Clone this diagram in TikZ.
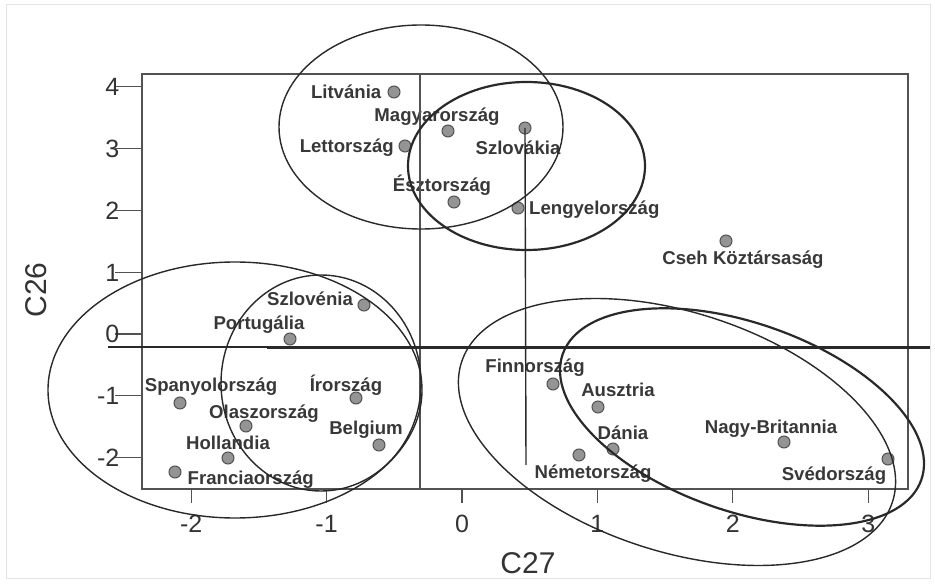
\documentclass[tikz,border=0pt]{standalone}
\usepackage{fontspec}
\setmainfont{Liberation Sans}
\usetikzlibrary{positioning}

\definecolor{vonal}{gray}{0.16}
\definecolor{keret}{gray}{0.32}
\definecolor{pontszin}{gray}{0.58}

\begin{document}
\begin{tikzpicture}[x=1pt, y=-1pt,
    pont/.style={circle, draw=keret, fill=pontszin, line width=1pt, minimum size=12pt, inner sep=0pt},
    cimke/.style={font=\fontsize{18.6}{20}\selectfont\bfseries, text=black!78, inner sep=0pt, text height=13.3pt, text depth=0pt},
    szam/.style={font=\fontsize{25}{28}\selectfont, text=black!80, inner sep=0pt, text height=18pt, text depth=0pt},
    tengely/.style={font=\fontsize{30}{32}\selectfont, text=black!80, inner sep=0pt},
    vekony/.style={draw=vonal, line width=1.4pt},
    vastag/.style={draw=vonal, line width=2.2pt}]
  \useasboundingbox (0,0) rectangle (935,585);
  \draw[gray!22, line width=1pt] (6,5) rectangle (930,578);

  % keret es osztovonalak
  \draw[keret, line width=1.5pt] (142,74) rectangle (908,489);
  \foreach \v in {-2,...,3}
    \draw[keret, line width=1.3pt] ({462+135.4*\v},489) -- ({462+135.4*\v},503)
      node[szam, anchor=north, yshift=-11pt] {\v};
  \foreach \v in {-2,...,4}
    \draw[keret, line width=1.3pt] (115,{334-61.8*\v}) -- (142,{334-61.8*\v})
      node[szam, anchor=east, xshift=-22pt] {\v};
  \node[tengely, rotate=90] (c26) at (36,290) {C26};
  \node[tengely] (c27) at (528,563) {C27};

  % orszagok
  \node[pont] (litvania) at (394,92) {};
  \node[pont] (magyar) at (448,131) {};
  \node[pont] (lett) at (405,146) {};
  \node[pont] (eszt) at (454,202) {};
  \node[pont] (szlovakia) at (525,128) {};
  \node[pont] (lengyel) at (518,208) {};
  \node[pont] (cseh) at (726,241) {};
  \node[pont] (szloven) at (364,305) {};
  \node[pont] (portugal) at (290,339) {};
  \node[pont] (spanyol) at (180,403) {};
  \node[pont] (olasz) at (246,426) {};
  \node[pont] (holland) at (228,458) {};
  \node[pont] (francia) at (175,472) {};
  \node[pont] (ir) at (356,398) {};
  \node[pont] (belga) at (379,445) {};
  \node[pont] (finn) at (553,384) {};
  \node[pont] (osztrak) at (598,407) {};
  \node[pont] (dan) at (613,449) {};
  \node[pont] (nemet) at (579,455) {};
  \node[pont] (brit) at (784,442) {};
  \node[pont] (sved) at (888,459) {};

  \node[cimke, left=6pt of litvania] (l-litvania) {Litvánia};
  \node[cimke] (l-magyar) at (437,115) {Magyarország};
  \node[cimke, left=4.5pt of lett] (l-lett) {Lettország};
  \node[cimke] (l-eszt) at (442,185) {Észtország};
  \node[cimke] (l-szlovakia) at (518,148) {Szlovákia};
  \node[cimke, right=4.5pt of lengyel] (l-lengyel) {Lengyelország};
  \node[cimke] (l-cseh) at (743,258) {Cseh Köztársaság};
  \node[cimke] (l-szloven) at (310,299) {Szlovénia};
  \node[cimke] (l-portugal) at (259,323) {Portugália};
  \node[cimke] (l-spanyol) at (211,385) {Spanyolország};
  \node[cimke] (l-olasz) at (264,412) {Olaszország};
  \node[cimke] (l-holland) at (228,443) {Hollandia};
  \node[cimke, right=6pt of francia, yshift=-6pt] (l-francia) {Franciaország};
  \node[cimke] (l-ir) at (346,385) {Írország};
  \node[cimke] (l-belga) at (366,428) {Belgium};
  \node[cimke] (l-finn) at (535,366) {Finnország};
  \node[cimke] (l-osztrak) at (618,390) {Ausztria};
  \node[cimke] (l-dan) at (623,433) {Dánia};
  \node[cimke] (l-nemet) at (593,472) {Németország};
  \node[cimke] (l-brit) at (771,427) {Nagy-Britannia};
  \node[cimke] (l-sved) at (834,474) {Svédország};

  % elvalaszto vonalak
  \coordinate (talp) at (526,465);
  \draw[keret, line width=1.4pt] (420,74) -- (420,489);
  \draw[vekony] (szlovakia.center) -- (talp);
  \draw[vekony] (108,347) -- (930,347);
  \draw[draw=vonal, line width=2.2pt] (267,348) -- (930,348);

  % csoportok
  \draw[vekony] (421,127) ellipse [x radius=142pt, y radius=102pt];
  \draw[vastag] (526.5,166) ellipse [x radius=118.5pt, y radius=84pt];
  \draw[vekony] (235,390) ellipse [x radius=187pt, y radius=128pt];
  \draw[vekony] (321,383) ellipse [x radius=100pt, y radius=108pt];
  \draw[vekony, rotate around={-18:(677,432)}] (677,432) ellipse [x radius=226.5pt, y radius=119.5pt];
  \draw[vastag, rotate around={-19.3:(742,417)}] (742,417) ellipse [x radius=190pt, y radius=94pt];
\end{tikzpicture}
\end{document}
